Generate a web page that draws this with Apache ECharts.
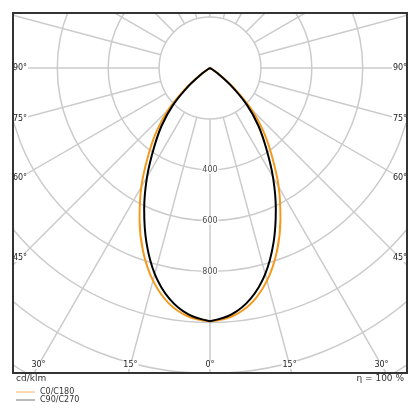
<!DOCTYPE html>
<html>
<head>
<meta charset="utf-8">
<script src="https://cdn.jsdelivr.net/npm/echarts@6/dist/echarts.min.js"></script>
<style>
html,body{margin:0;padding:0;background:#fff;}
#c{width:420px;height:420px;}
</style>
</head>
<body>
<div id="c"></div>
<script>
// ---- data (cd/klm), gamma 0..90 ----
const gammaDeg = [0, 5, 10, 15, 20, 25, 30, 35, 40, 45, 50, 55, 60, 65, 70, 75, 80, 85, 90];
const c0c180   = [995, 980, 938, 865, 768, 655, 540, 425, 328, 230, 122, 42, 6, 0, 0, 0, 0, 0, 0];
const c90c270  = [995, 972, 920, 838, 730, 612, 495, 385, 295, 205, 108, 38, 6, 0, 0, 0, 0, 0, 0];
const seriesNames = ['C0/C180', 'C90/C270'];
const ringLabels = [400, 600, 800];
const sideAngleLabels = [90, 75, 60, 45];
const bottomAngleLabels = [30, 15, 0];
const unitText = 'cd/klm';
const etaText = 'η = 100 %';

// ---- layout ----
const CX = 210, CY = 68, K = 0.2545;          // centre and px per cd
const RMAX = 1440;                            // outer value of the grid
const F = {l: 13, t: 13, r: 407, b: 373};     // frame
const FONT = '"DejaVu Sans", sans-serif';
const GRID = '#cbcbcb';

// left half (C180 / C270): angle = gamma ; right half (C0 / C90): angle = 360 - gamma
function half(vals, side) {
  return vals.map((v, i) => [v, side < 0 ? gammaDeg[i] : (360 - gammaDeg[i]) % 360]);
}

const graphics = [
  {type: 'rect', shape: {x: 0, y: 0, width: 420, height: F.t - 1}, style: {fill: '#fff'}, z: 100, silent: true},
  {type: 'rect', shape: {x: 0, y: 0, width: F.l - 1, height: 420}, style: {fill: '#fff'}, z: 100, silent: true},
  {type: 'rect', shape: {x: F.r + 1, y: 0, width: 420 - F.r, height: 420}, style: {fill: '#fff'}, z: 100, silent: true},
  {type: 'rect', shape: {x: 0, y: F.b + 1, width: 420, height: 420 - F.b}, style: {fill: '#fff'}, z: 100, silent: true},
  {type: 'rect', shape: {x: F.l, y: F.t, width: F.r - F.l, height: F.b - F.t},
   style: {fill: 'none', stroke: '#333', lineWidth: 2}, z: 110, silent: true}
];

function angleText(txt, x, y) {
  graphics.push({type: 'text', z: 102, silent: true,
    style: {text: txt, x: x, y: y, align: 'center', verticalAlign: 'middle',
            fill: '#222', font: '8px ' + FONT, backgroundColor: '#fff', padding: [0, 1]}});
}
const sideX = 7;
sideAngleLabels.forEach(g => {
  const dx = CX - (F.l + sideX);
  const y = g === 90 ? CY : CY + dx / Math.tan(g * Math.PI / 180);
  angleText(g + '°', F.l + sideX, y);
  angleText(g + '°', F.r - sideX, y);
});
bottomAngleLabels.forEach(g => {
  const y = F.b - 8;
  const dx = (y - CY) * Math.tan(g * Math.PI / 180);
  angleText(g + '°', CX - dx, y);
  if (g !== 0) angleText(g + '°', CX + dx, y);
});
graphics.push({type: 'text', z: 102, silent: true,
  style: {text: unitText, x: 16, y: 379, align: 'left', verticalAlign: 'middle', fill: '#333', font: '9px ' + FONT}});
graphics.push({type: 'text', z: 102, silent: true,
  style: {text: etaText, x: 404, y: 379, align: 'right', verticalAlign: 'middle', fill: '#333', font: '9px ' + FONT}});

function curve(name, vals, side, color, z) {
  return {name: name, type: 'line', coordinateSystem: 'polar', polarIndex: 1,
    data: half(vals, side), showSymbol: false, symbol: 'none', smooth: 0.35,
    lineStyle: {color: color, width: 2}, itemStyle: {color: color}, z: z};
}

const chart = echarts.init(document.getElementById('c'), null, {renderer: 'canvas'});
chart.setOption({
  animation: false,
  backgroundColor: '#fff',
  polar: [
    {center: [CX, CY], radius: [200 * K, RMAX * K]},
    {center: [CX, CY], radius: RMAX * K}
  ],
  radiusAxis: [
    {polarIndex: 0, type: 'value', min: 200, max: RMAX, interval: 200,
     axisLine: {show: false}, axisTick: {show: false}, axisLabel: {show: false},
     splitLine: {show: true, lineStyle: {color: GRID, width: 1.5}}},
    {polarIndex: 1, type: 'value', min: 0, max: RMAX, show: false,
     axisLine: {show: false}, axisTick: {show: false}, axisLabel: {show: false}, splitLine: {show: false}}
  ],
  angleAxis: [
    {polarIndex: 0, type: 'value', min: 0, max: 360, interval: 15, startAngle: 90,
     axisLine: {show: false}, axisTick: {show: false}, axisLabel: {show: false},
     splitLine: {show: true, lineStyle: {color: GRID, width: 1.5}}},
    {polarIndex: 1, type: 'value', min: 0, max: 360, startAngle: 270, clockwise: true, show: false,
     axisLine: {show: false}, axisTick: {show: false}, axisLabel: {show: false}, splitLine: {show: false}}
  ],
  legend: {
    data: [
      {name: seriesNames[0], itemStyle: {color: '#f6b566'}},
      {name: seriesNames[1], itemStyle: {color: '#777'}}
    ],
    orient: 'vertical', left: 16, top: 388, padding: 0, itemGap: 0,
    itemWidth: 19, itemHeight: 1, icon: 'rect', z: 200,
    textStyle: {fontSize: 8, color: '#333', fontFamily: FONT, lineHeight: 8}
  },
  graphic: graphics,
  series: [
    curve(seriesNames[0], c0c180, -1, '#f39a1e', 3),
    curve(seriesNames[0], c0c180, 1, '#f39a1e', 3),
    curve(seriesNames[1], c90c270, -1, '#000', 4),
    curve(seriesNames[1], c90c270, 1, '#000', 4),
    {name: 'rings', type: 'scatter', coordinateSystem: 'polar', polarIndex: 1,
     data: ringLabels.map(v => [v, 0]), symbolSize: 1, itemStyle: {color: 'rgba(0,0,0,0)'},
     label: {show: true, position: 'inside', formatter: p => String(p.value[0]),
             fontSize: 8, fontFamily: FONT, color: '#222', backgroundColor: '#fff', padding: [0, 1]},
     z: 5, silent: true}
  ]
});
</script>
</body>
</html>
